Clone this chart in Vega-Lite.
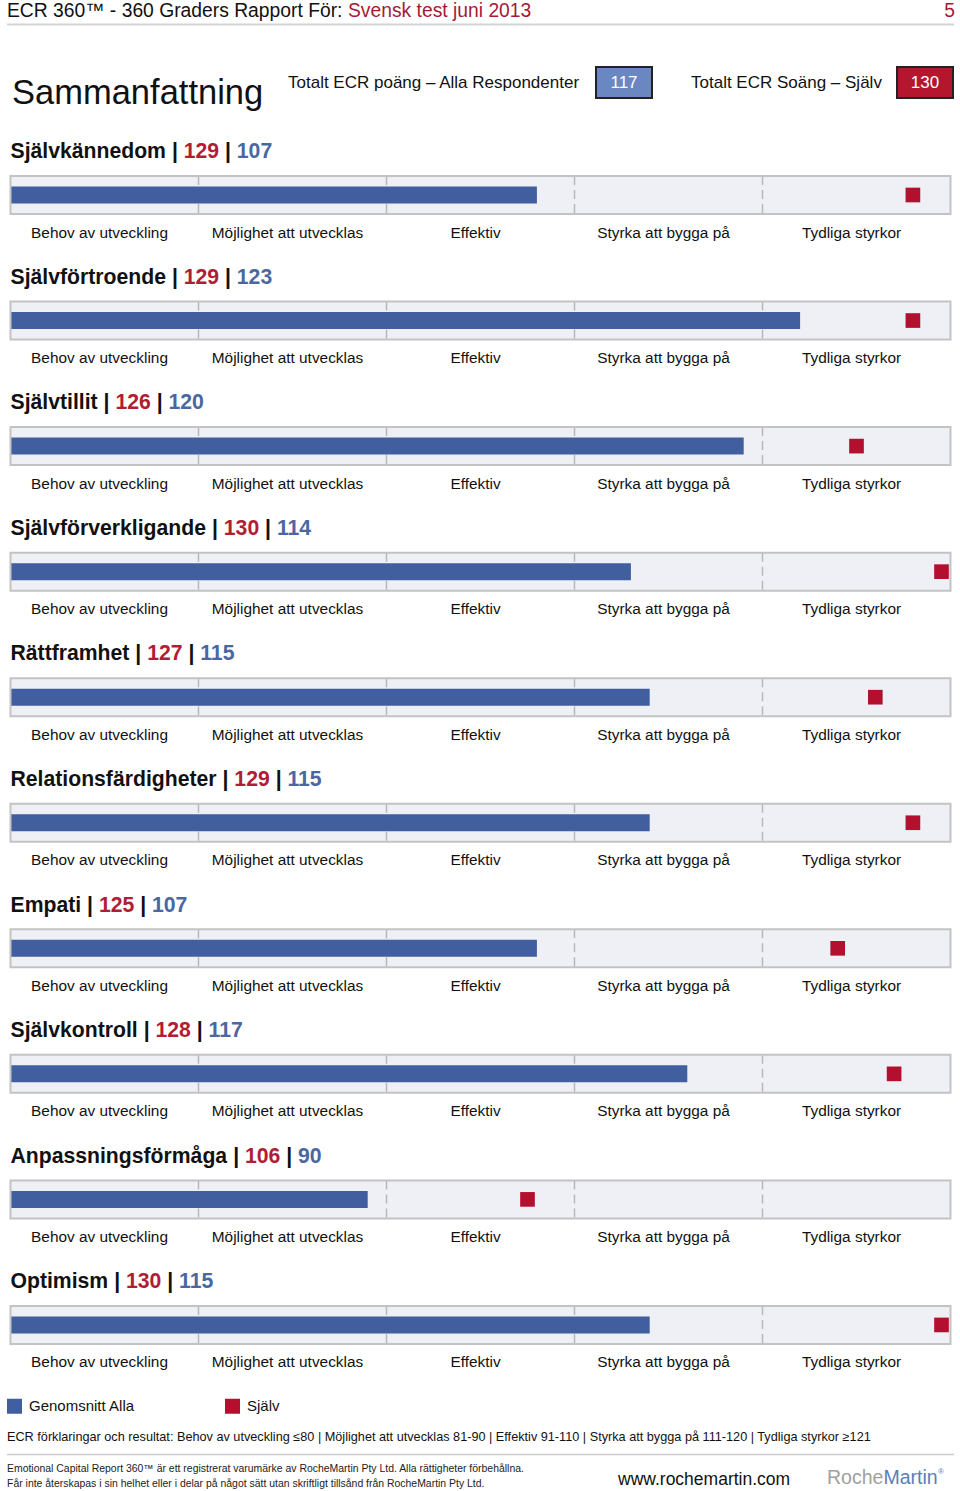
{
  "$schema": "https://vega.github.io/schema/vega-lite/v6.json",
  "background": "white",
  "padding": {"left": 6, "right": 6, "top": 0, "bottom": 0},
  "config": {"view": {"stroke": null}, "font": "Liberation Sans"},
  "spacing": 0,
  "center": true,
  "vconcat": [
    {
      "width": 948,
      "height": 132,
      "data": {"values": [{"report": "Svensk test juni 2013", "page": "5", "alla": 117, "sjalv": 130}]},
      "layer": [
        {"mark": {"type": "text", "align": "left", "baseline": "alphabetic", "fontSize": 19.3, "color": "#111111", "text": "ECR 360™ - 360 Graders Rapport För:"},
         "encoding": {"x": {"value": 0}, "y": {"value": 17}}},
        {"mark": {"type": "text", "align": "left", "baseline": "alphabetic", "fontSize": 19.3, "color": "#a51937"},
         "encoding": {"x": {"value": 341}, "y": {"value": 17}, "text": {"field": "report"}}},
        {"mark": {"type": "text", "align": "right", "baseline": "alphabetic", "fontSize": 19.3, "color": "#a51937"},
         "encoding": {"x": {"value": 948}, "y": {"value": 17}, "text": {"field": "page"}}},
        {"mark": {"type": "rule", "color": "#d4d4d4", "strokeWidth": 2},
         "encoding": {"x": {"value": 0}, "x2": {"value": 947}, "y": {"value": 24.5}}},
        {"mark": {"type": "text", "align": "left", "baseline": "alphabetic", "fontSize": 34.5, "color": "#111111", "text": "Sammanfattning"},
         "encoding": {"x": {"value": 5}, "y": {"value": 104}}},
        {"mark": {"type": "text", "align": "left", "baseline": "alphabetic", "fontSize": 17, "color": "#111111", "text": "Totalt ECR poäng – Alla Respondenter"},
         "encoding": {"x": {"value": 281}, "y": {"value": 87.5}}},
        {"mark": {"type": "rect", "fill": "#6b87c1", "stroke": "#222222", "strokeWidth": 2},
         "encoding": {"x": {"value": 589}, "x2": {"value": 645}, "y": {"value": 67}, "y2": {"value": 98}}},
        {"mark": {"type": "text", "align": "center", "baseline": "alphabetic", "fontSize": 17, "color": "#ffffff"},
         "encoding": {"x": {"value": 617}, "y": {"value": 88}, "text": {"field": "alla"}}},
        {"mark": {"type": "text", "align": "left", "baseline": "alphabetic", "fontSize": 17, "color": "#111111", "text": "Totalt ECR Soäng – Själv"},
         "encoding": {"x": {"value": 684}, "y": {"value": 87.5}}},
        {"mark": {"type": "rect", "fill": "#b4172d", "stroke": "#222222", "strokeWidth": 2},
         "encoding": {"x": {"value": 890}, "x2": {"value": 946}, "y": {"value": 67}, "y2": {"value": 98}}},
        {"mark": {"type": "text", "align": "center", "baseline": "alphabetic", "fontSize": 17, "color": "#ffffff"},
         "encoding": {"x": {"value": 918}, "y": {"value": 88}, "text": {"field": "sjalv"}}}
      ]
    },
    {
      "data": {"values": [
        {"section": "Självkännedom", "self": 129, "alla": 107},
        {"section": "Självförtroende", "self": 129, "alla": 123},
        {"section": "Självtillit", "self": 126, "alla": 120},
        {"section": "Självförverkligande", "self": 130, "alla": 114},
        {"section": "Rättframhet", "self": 127, "alla": 115},
        {"section": "Relationsfärdigheter", "self": 129, "alla": 115},
        {"section": "Empati", "self": 125, "alla": 107},
        {"section": "Självkontroll", "self": 128, "alla": 117},
        {"section": "Anpassningsförmåga", "self": 106, "alla": 90},
        {"section": "Optimism", "self": 130, "alla": 115}
      ]},
      "facet": {"row": {"field": "section", "type": "nominal", "header": null,
        "sort": ["Självkännedom", "Självförtroende", "Självtillit", "Självförverkligande", "Rättframhet", "Relationsfärdigheter", "Empati", "Självkontroll", "Anpassningsförmåga", "Optimism"]}},
      "bounds": "flush",
      "spacing": {"row": 43.55},
      "resolve": {"axis": {"x": "independent"}},
      "spec": {
        "width": 940,
        "height": 82,
        "layer": [
          {"mark": {"type": "rect", "fill": "#eef0f5"},
           "encoding": {
             "x": {"datum": 71, "type": "quantitative",
               "scale": {"domain": [71, 81, 91, 111, 121, 129, 130, 131], "range": [0, 188, 376, 564, 752, 902.4, 931, 940], "nice": false, "zero": false},
               "axis": {"values": [76, 86, 101, 116, 126],
                 "labelExpr": "datum.value == 76 ? 'Behov av utveckling' : datum.value == 86 ? 'Möjlighet att utvecklas' : datum.value == 101 ? 'Effektiv' : datum.value == 116 ? 'Styrka att bygga på' : 'Tydliga styrkor'",
                 "domain": false, "ticks": false, "tickSize": 0, "grid": false, "title": null,
                 "labelFontSize": 15.4, "labelColor": "#111111", "labelPadding": 11, "labelOffset": -5.5,
                 "labelFlush": false, "labelOverlap": false, "labelBound": false, "labelAngle": 0}},
             "x2": {"datum": 131},
             "y": {"datum": "bar", "type": "nominal",
               "scale": {"type": "band", "domain": ["title", "bar"], "paddingInner": 0.13636, "paddingOuter": 0},
               "axis": null}
           }},
          {"mark": {"type": "rule", "color": "#b8b8b8", "strokeWidth": 1.5, "strokeDash": [9, 5]},
           "encoding": {"x": {"datum": 81, "type": "quantitative"}, "y": {"datum": "bar", "type": "nominal", "bandPosition": 0}, "y2": {"datum": "bar", "bandPosition": 1}}},
          {"mark": {"type": "rule", "color": "#b8b8b8", "strokeWidth": 1.5, "strokeDash": [9, 5]},
           "encoding": {"x": {"datum": 91, "type": "quantitative"}, "y": {"datum": "bar", "type": "nominal", "bandPosition": 0}, "y2": {"datum": "bar", "bandPosition": 1}}},
          {"mark": {"type": "rule", "color": "#b8b8b8", "strokeWidth": 1.5, "strokeDash": [9, 5]},
           "encoding": {"x": {"datum": 111, "type": "quantitative"}, "y": {"datum": "bar", "type": "nominal", "bandPosition": 0}, "y2": {"datum": "bar", "bandPosition": 1}}},
          {"mark": {"type": "rule", "color": "#b8b8b8", "strokeWidth": 1.5, "strokeDash": [9, 5]},
           "encoding": {"x": {"datum": 121, "type": "quantitative"}, "y": {"datum": "bar", "type": "nominal", "bandPosition": 0}, "y2": {"datum": "bar", "bandPosition": 1}}},
          {"mark": {"type": "bar", "height": {"band": 0.447}},
           "encoding": {
             "x": {"field": "alla", "type": "quantitative"},
             "x2": {"datum": 71},
             "y": {"datum": "bar", "type": "nominal"},
             "color": {"datum": "Genomsnitt Alla", "type": "nominal",
               "scale": {"domain": ["Genomsnitt Alla", "Själv"], "range": ["#415e9e", "#b30f2e"]},
               "legend": {"orient": "none", "legendX": 0, "legendY": 1398.5, "direction": "horizontal", "title": null, "padding": 0,
                 "symbolType": "square", "symbolSize": 225, "symbolStrokeWidth": 0, "symbolOpacity": 1,
                 "labelFontSize": 15, "labelColor": "#111111", "labelOffset": 7, "columnPadding": 90}}
           }},
          {"mark": {"type": "point", "shape": "square", "size": 215, "filled": true, "opacity": 1},
           "encoding": {
             "x": {"field": "self", "type": "quantitative"},
             "y": {"datum": "bar", "type": "nominal"},
             "color": {"datum": "Själv", "type": "nominal"}
           }},
          {"mark": {"type": "rect", "fill": "transparent", "stroke": "#c3c3c3", "strokeWidth": 2},
           "encoding": {"x": {"datum": 71, "type": "quantitative"}, "x2": {"datum": 131}, "y": {"datum": "bar", "type": "nominal"}}},
          {"mark": {"type": "text", "align": "left", "baseline": "middle", "fontSize": 21.2, "fontWeight": "bold", "color": "#111111", "dy": 1.2},
           "encoding": {"x": {"datum": 71, "type": "quantitative"}, "y": {"datum": "title", "type": "nominal"}, "text": {"field": "section"}}},
          {"mark": {"type": "text", "align": "left", "baseline": "middle", "fontSize": 21.2, "fontWeight": "bold", "color": "#111111", "text": "|", "dy": 1.2,
                    "dx": {"expr": "21.2*(0.278 + 0.556*length(datum.section) + 0.055*length(replace(datum.section, regexp('[^bdghnopquö]', 'g'), '')) + 0.333*length(replace(datum.section, regexp('[^m]', 'g'), '')) - 0.278*length(replace(datum.section, regexp('[^ijl ]', 'g'), '')) - 0.223*length(replace(datum.section, regexp('[^ft]', 'g'), '')) - 0.167*length(replace(datum.section, regexp('[^r]', 'g'), '')) + 0.111*length(replace(datum.section, regexp('[^SE]', 'g'), '')) + 0.166*length(replace(datum.section, regexp('[^RA]', 'g'), '')) + 0.222*length(replace(datum.section, regexp('[^O]', 'g'), '')))"}},
           "encoding": {"x": {"datum": 71, "type": "quantitative"}, "y": {"datum": "title", "type": "nominal"}}},
          {"mark": {"type": "text", "align": "left", "baseline": "middle", "fontSize": 21.2, "fontWeight": "bold", "color": "#b01d35", "dy": 1.2,
                    "dx": {"expr": "21.2*(0.836 + 0.556*length(datum.section) + 0.055*length(replace(datum.section, regexp('[^bdghnopquö]', 'g'), '')) + 0.333*length(replace(datum.section, regexp('[^m]', 'g'), '')) - 0.278*length(replace(datum.section, regexp('[^ijl ]', 'g'), '')) - 0.223*length(replace(datum.section, regexp('[^ft]', 'g'), '')) - 0.167*length(replace(datum.section, regexp('[^r]', 'g'), '')) + 0.111*length(replace(datum.section, regexp('[^SE]', 'g'), '')) + 0.166*length(replace(datum.section, regexp('[^RA]', 'g'), '')) + 0.222*length(replace(datum.section, regexp('[^O]', 'g'), '')))"}},
           "encoding": {"x": {"datum": 71, "type": "quantitative"}, "y": {"datum": "title", "type": "nominal"}, "text": {"field": "self"}}},
          {"mark": {"type": "text", "align": "left", "baseline": "middle", "fontSize": 21.2, "fontWeight": "bold", "color": "#111111", "text": "|", "dy": 1.2,
                    "dx": {"expr": "21.2*(2.782 + 0.556*length(datum.section) + 0.055*length(replace(datum.section, regexp('[^bdghnopquö]', 'g'), '')) + 0.333*length(replace(datum.section, regexp('[^m]', 'g'), '')) - 0.278*length(replace(datum.section, regexp('[^ijl ]', 'g'), '')) - 0.223*length(replace(datum.section, regexp('[^ft]', 'g'), '')) - 0.167*length(replace(datum.section, regexp('[^r]', 'g'), '')) + 0.111*length(replace(datum.section, regexp('[^SE]', 'g'), '')) + 0.166*length(replace(datum.section, regexp('[^RA]', 'g'), '')) + 0.222*length(replace(datum.section, regexp('[^O]', 'g'), '')))"}},
           "encoding": {"x": {"datum": 71, "type": "quantitative"}, "y": {"datum": "title", "type": "nominal"}}},
          {"mark": {"type": "text", "align": "left", "baseline": "middle", "fontSize": 21.2, "fontWeight": "bold", "color": "#4a689f", "dy": 1.2,
                    "dx": {"expr": "21.2*(3.34 + 0.556*length(datum.section) + 0.055*length(replace(datum.section, regexp('[^bdghnopquö]', 'g'), '')) + 0.333*length(replace(datum.section, regexp('[^m]', 'g'), '')) - 0.278*length(replace(datum.section, regexp('[^ijl ]', 'g'), '')) - 0.223*length(replace(datum.section, regexp('[^ft]', 'g'), '')) - 0.167*length(replace(datum.section, regexp('[^r]', 'g'), '')) + 0.111*length(replace(datum.section, regexp('[^SE]', 'g'), '')) + 0.166*length(replace(datum.section, regexp('[^RA]', 'g'), '')) + 0.222*length(replace(datum.section, regexp('[^O]', 'g'), '')))"}},
           "encoding": {"x": {"datum": 71, "type": "quantitative"}, "y": {"datum": "title", "type": "nominal"}, "text": {"field": "alla"}}}
        ]
      }
    },
    {
      "width": 948,
      "height": 120.5,
      "data": {"values": [{"site": "www.rochemartin.com", "brand1": "Roche", "brand2": "Martin"}]},
      "layer": [
        {"mark": {"type": "text", "align": "left", "baseline": "alphabetic", "fontSize": 12.7, "color": "#111111",
                  "text": "ECR förklaringar och resultat:  Behov av utveckling ≤80 | Möjlighet att utvecklas 81-90 | Effektiv 91-110 | Styrka att bygga på 111-120 | Tydliga styrkor ≥121"},
         "encoding": {"x": {"value": 0}, "y": {"value": 70}}},
        {"mark": {"type": "rule", "color": "#cccccc", "strokeWidth": 1.5},
         "encoding": {"x": {"value": 0}, "x2": {"value": 947}, "y": {"value": 83.5}}},
        {"mark": {"type": "text", "align": "left", "baseline": "alphabetic", "fontSize": 10.45, "color": "#222222",
                  "text": "Emotional Capital Report 360™ är ett registrerat varumärke av RocheMartin Pty Ltd. Alla rättigheter förbehållna."},
         "encoding": {"x": {"value": 0}, "y": {"value": 101}}},
        {"mark": {"type": "text", "align": "left", "baseline": "alphabetic", "fontSize": 10.45, "color": "#222222",
                  "text": "Får inte återskapas i sin helhet eller i delar på något sätt utan skriftligt tillsånd från RocheMartin Pty Ltd."},
         "encoding": {"x": {"value": 0}, "y": {"value": 115.5}}},
        {"mark": {"type": "text", "align": "left", "baseline": "alphabetic", "fontSize": 17.5, "color": "#111111"},
         "encoding": {"x": {"value": 611}, "y": {"value": 114}, "text": {"field": "site"}}},
        {"mark": {"type": "text", "align": "left", "baseline": "alphabetic", "fontSize": 19.5, "color": "#a0a0a0"},
         "encoding": {"x": {"value": 820}, "y": {"value": 112.5}, "text": {"field": "brand1"}}},
        {"mark": {"type": "text", "align": "left", "baseline": "alphabetic", "fontSize": 19.5, "color": "#5a7fb8"},
         "encoding": {"x": {"value": 876.4}, "y": {"value": 112.5}, "text": {"field": "brand2"}}},
        {"mark": {"type": "text", "align": "left", "baseline": "alphabetic", "fontSize": 8, "color": "#5a7fb8", "text": "®"},
         "encoding": {"x": {"value": 931}, "y": {"value": 103}}}
      ]
    }
  ]
}
